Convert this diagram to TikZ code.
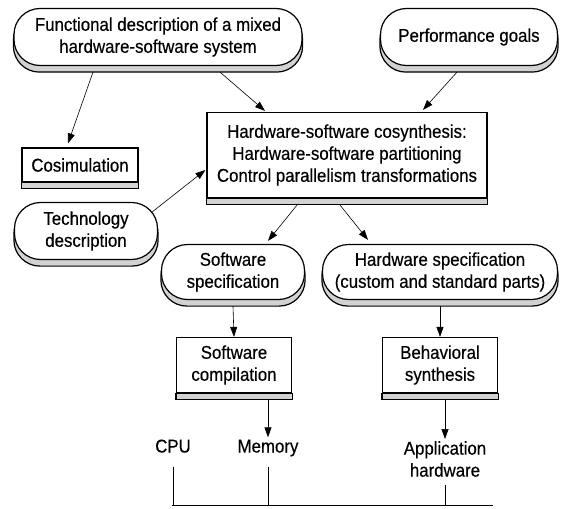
\documentclass[tikz,border=0pt]{standalone}
\usepackage{fontspec}
\setmainfont[FakeStretch=0.91,FakeBold=0.4]{Liberation Sans}
\usetikzlibrary{arrows.meta,positioning,backgrounds}

\tikzset{
  pill/.style={draw, line width=1.2pt, fill=white, rectangle, rounded corners=26pt,
    align=center, inner sep=0pt, font=\fontsize{18.5}{22}\selectfont},
  box/.style={pill, rounded corners=0pt},
  shade/.style={draw, fill=gray!35, line width=1.2pt},
  lbl/.style={align=center, inner sep=2pt, font=\fontsize{18.5}{22}\selectfont},
  arr/.style={-{Triangle[length=10pt,width=7pt]}, line width=0.6pt},
  bus/.style={line width=0.6pt}
}

\begin{document}
\begin{tikzpicture}[x=1pt,y=-1pt]
\useasboundingbox (0,0) rectangle (561,508);

\node[pill, minimum width=288pt, minimum height=57pt] (func) at (158,37) {Functional description of a mixed\\hardware-software system};
\node[pill, minimum width=177pt, minimum height=57pt] (perf) at (469,37) {Performance goals};
\node[box, minimum width=116pt, minimum height=34pt] (cosim) at (80,165) {Cosimulation};
\node[box, minimum width=280pt, minimum height=85pt] (synth) at (347,155) {Hardware-software cosynthesis:\\Hardware-software partitioning\\Control parallelism transformations};
\node[pill, minimum width=143pt, minimum height=57pt] (tech) at (86,231) {Technology\\description};
\node[pill, minimum width=143pt, minimum height=55pt] (swspec) at (233,272) {Software\\specification};
\node[pill, minimum width=235pt, minimum height=55pt] (hwspec) at (440,272) {Hardware specification\\(custom and standard parts)};
\node[box, minimum width=115pt, minimum height=55pt] (swcomp) at (234,365) {Software\\compilation};
\node[box, minimum width=115pt, minimum height=55pt] (behav) at (440,365) {Behavioral\\synthesis};
\node[lbl, text height=13pt, text depth=4pt] (cpu) at (173,448) {CPU};
\node[lbl, text height=13pt, text depth=4pt] (mem) at (268,448) {Memory};
\node[lbl] (app) at (445,459) {Application\\hardware};

% shadows under the shapes
\begin{scope}[on background layer]
\foreach \n in {func,perf,tech,swspec,hwspec}
  \draw[shade, rounded corners=26pt] ([yshift=-6pt]\n.north west) rectangle ([yshift=-6pt]\n.south east);
\foreach \n in {cosim,synth,swcomp,behav}
  \draw[shade] (\n.south west) rectangle ([yshift=-6pt]\n.south east);
\end{scope}

\draw[arr] ([xshift=-65pt,yshift=-6pt]func.south) -- ([xshift=-12pt,yshift=4pt]cosim.north);
\draw[arr] ([xshift=62pt,yshift=-6pt]func.south) -- ([xshift=-82pt,yshift=1pt]synth.north);
\draw[arr] ([xshift=-12pt,yshift=-6pt]perf.south) -- ([xshift=76pt,yshift=2pt]synth.north);
\draw[arr] ([xshift=-6pt,yshift=19pt]tech.east) -- ([xshift=-1pt,yshift=-15pt]synth.west);
\draw[arr] ([xshift=-50pt,yshift=-7pt]synth.south) -- ([xshift=35pt,yshift=3pt]swspec.north);
\draw[arr] ([xshift=-7pt,yshift=-7pt]synth.south) -- ([xshift=-72pt,yshift=4pt]hwspec.north);
\draw[arr] ([yshift=-6pt]swspec.south) -- (swcomp.north);
\draw[arr] ([yshift=-6pt]hwspec.south) -- (behav.north);
\draw[arr] ([yshift=-6pt]mem.north |- swcomp.south) -- (mem.north);
\draw[arr] ([yshift=-6pt]app.north |- behav.south) -- (app.north);

% bus
\coordinate (busl) at (172,505);
\coordinate (busr) at (493,505);
\draw[bus] (busl) -- (busr);
\draw[bus] ([yshift=-8pt]cpu.south) -- (cpu.south |- busl);
\draw[bus] ([yshift=-8pt]mem.south) -- (mem.south |- busl);
\draw[bus] ([yshift=-6pt]app.south) -- (app.south |- busl);
\end{tikzpicture}
\end{document}
